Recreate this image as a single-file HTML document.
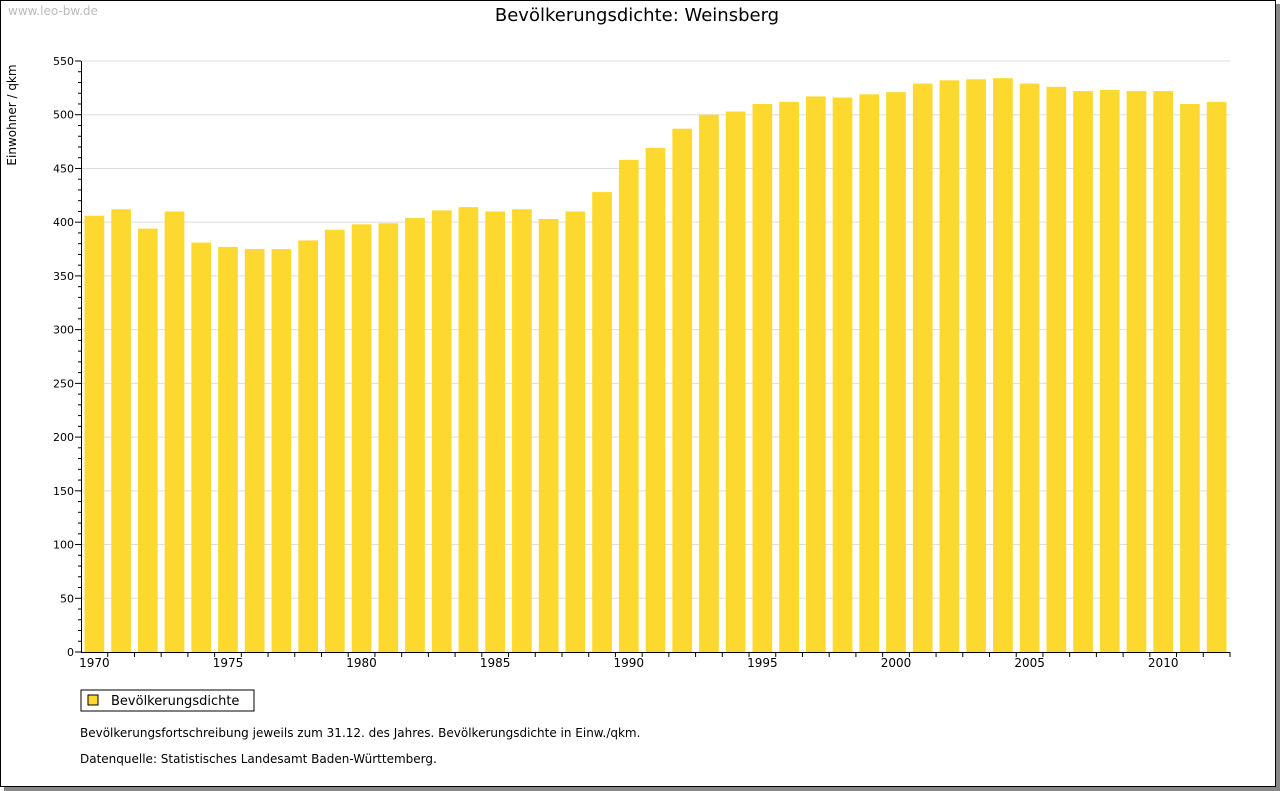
<!DOCTYPE html>
<html><head><meta charset="utf-8"><style>
body{margin:0;background:#fff;font-family:"DejaVu Sans","Liberation Sans",sans-serif;}
#frame{position:absolute;left:0;top:0;width:1274px;height:785px;border:1px solid #000;background:#fff;box-shadow:4px 4px 0 #888;}
</style></head><body>
<div id="frame"></div>
<svg id="c" width="1280" height="791" style="position:absolute;left:0;top:0" font-family="DejaVu Sans, Liberation Sans, sans-serif">
<text x="8" y="15" font-size="12" fill="#bbb">www.leo-bw.de</text>
<text x="637" y="21" font-size="18" text-anchor="middle">Bevölkerungsdichte: Weinsberg</text>
<text transform="translate(16,115) rotate(-90)" font-size="12" text-anchor="middle">Einwohner / qkm</text>
<g id="grid"></g><g id="bars"></g><g id="axes"></g>
<rect x="81" y="690" width="173" height="21" fill="#fff" stroke="#000"/>
<rect x="88" y="695" width="10" height="10" fill="#FDD92F" stroke="#000"/>
<text x="111" y="705" font-size="13">Bevölkerungsdichte</text>
<text x="80" y="737" font-size="12">Bevölkerungsfortschreibung jeweils zum 31.12. des Jahres. Bevölkerungsdichte in Einw./qkm.</text>
<text x="80" y="763" font-size="12">Datenquelle: Statistisches Landesamt Baden-Württemberg.</text>
</svg>
<script>
const years=[1970,1971,1972,1973,1974,1975,1976,1977,1978,1979,1980,1981,1982,1983,1984,1985,1986,1987,1988,1989,1990,1991,1992,1993,1994,1995,1996,1997,1998,1999,2000,2001,2002,2003,2004,2005,2006,2007,2008,2009,2010,2011,2012];
const values=[406,412,394,410,381,377,375,375,383,393,398,399,404,411,414,410,412,403,410,428,458,469,487,500,503,510,512,517,516,519,521,529,532,533,534,529,526,522,523,522,522,510,512];
const yTicks=[0,50,100,150,200,250,300,350,400,450,500,550];
const xLabels=[1970,1975,1980,1985,1990,1995,2000,2005,2010];
const ns="http://www.w3.org/2000/svg";
const X0=81,X1=1230,Y0=652,Y1=61,YMAX=550;
const slot=(X1-X0)/years.length;
const y=v=>Y0-(v/YMAX)*(Y0-Y1);
const xs=i=>X0+i*slot;
function mk(t,a,p){const e=document.createElementNS(ns,t);for(const k in a)e.setAttribute(k,a[k]);p.appendChild(e);return e;}
const G=document.getElementById('grid'),B=document.getElementById('bars'),A=document.getElementById('axes');
yTicks.forEach(v=>{
 if(v>0){const l=mk('line',{x1:X0,x2:X1,y1:y(v),y2:y(v),stroke:'#ddd'},G);
 
 }
 const t=mk('text',{x:X0-7,y:y(v)+4,'font-size':11,'text-anchor':'end'},A);t.textContent=v;
 
 
 mk('line',{x1:X0-6,x2:X0,y1:y(v),y2:y(v),stroke:'#000'},A);
});
for(let v=10;v<YMAX;v+=10){if(v%50)mk('line',{x1:X0-3,x2:X0,y1:y(v),y2:y(v),stroke:'#000'},A);}
values.forEach((v,i)=>{
 const r=mk('rect',{x:xs(i)+3.5,y:y(v),width:slot-7,height:Y0-y(v),fill:'#FDD92F'},B);
 
 
});
mk('line',{x1:X0+0.5,x2:X0+0.5,y1:Y1,y2:Y0,stroke:'#000'},A);
mk('line',{x1:X0,x2:X1,y1:Y0+0.5,y2:Y0+0.5,stroke:'#000'},A);
for(let i=1;i<=years.length;i++)mk('line',{x1:xs(i),x2:xs(i),y1:Y0,y2:Y0+5,stroke:'#000'},A);
xLabels.forEach(yr=>{const i=years.indexOf(yr);
 const t=mk('text',{x:xs(i)+slot/2,y:Y0+15,'font-size':12,'text-anchor':'middle'},A);t.textContent=yr;
 
 
});
</script>
</body></html>
